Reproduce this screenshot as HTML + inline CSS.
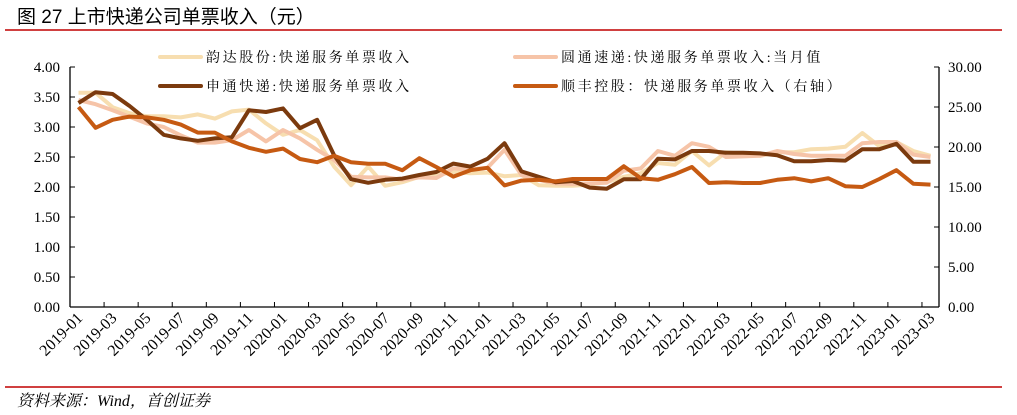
<!DOCTYPE html>
<html><head><meta charset="utf-8"><style>
body{margin:0;background:#fff;}
svg{display:block;font-family:"Liberation Serif","Noto Serif CJK SC",serif;}
</style></head><body>
<svg id="chart" width="1017" height="415" viewBox="0 0 1017 415" xmlns="http://www.w3.org/2000/svg">
<text x="17" y="23" font-size="19" font-family="Liberation Sans, Noto Sans CJK SC, sans-serif" fill="#000">图  27 上市快递公司单票收入（元）</text>
<line x1="5" y1="30" x2="1002" y2="30" stroke="#c00000" stroke-width="1.5"/>
<line x1="5" y1="387" x2="1002" y2="387" stroke="#c00000" stroke-width="1.5"/>
<text x="17" y="406" font-size="16" font-style="italic" fill="#000">资料来源：Wind，首创证券</text>
<g id="axes"></g>
<g id="series"></g>
<g id="legend"></g>
</svg>
<script>
const categories = [];
for (let y = 2019; y <= 2023; y++) for (let m = 1; m <= 12; m++) { if (y === 2023 && m > 3) break; categories.push(y + '-' + String(m).padStart(2, '0')); }
const leftTicks = ["0.00","0.50","1.00","1.50","2.00","2.50","3.00","3.50","4.00"];
const rightTicks = ["0.00","5.00","10.00","15.00","20.00","25.00","30.00"];
const yundaValues = [3.57,3.57,3.33,3.23,3.18,3.18,3.16,3.21,3.14,3.26,3.29,3.06,2.87,2.95,2.78,2.34,2.03,2.34,2.02,2.08,2.17,2.2,2.25,2.23,2.24,2.18,2.2,2.03,2.02,2.02,2.04,2.08,2.17,2.23,2.4,2.37,2.6,2.36,2.58,2.55,2.52,2.58,2.58,2.63,2.64,2.67,2.9,2.68,2.75,2.6,2.52];
const ytoValues = [3.45,3.38,3.28,3.17,3.06,3.0,2.86,2.74,2.74,2.78,2.95,2.76,2.95,2.81,2.62,2.45,2.17,2.16,2.16,2.12,2.16,2.15,2.31,2.29,2.32,2.62,2.2,2.12,2.06,2.05,2.06,2.07,2.27,2.31,2.6,2.52,2.73,2.67,2.5,2.51,2.52,2.6,2.55,2.52,2.52,2.52,2.73,2.75,2.75,2.54,2.5];
const stoValues = [3.4,3.58,3.55,3.35,3.12,2.87,2.81,2.77,2.81,2.83,3.28,3.25,3.31,2.98,3.12,2.53,2.13,2.07,2.12,2.14,2.2,2.25,2.39,2.34,2.47,2.73,2.26,2.17,2.08,2.1,1.99,1.97,2.13,2.13,2.47,2.46,2.6,2.6,2.57,2.57,2.56,2.53,2.43,2.43,2.45,2.44,2.63,2.63,2.72,2.42,2.42];
const sfValues = [25.0,22.4,23.4,23.8,23.7,23.4,22.8,21.8,21.8,20.7,19.9,19.4,19.8,18.5,18.1,18.9,18.1,17.9,17.9,17.1,18.6,17.5,16.3,17.1,17.4,15.2,15.8,15.9,15.7,16.0,16.0,16.0,17.6,16.1,15.9,16.6,17.5,15.5,15.6,15.5,15.5,15.9,16.1,15.7,16.1,15.1,15.0,16.0,17.1,15.4,15.3];

const NS = 'http://www.w3.org/2000/svg';
const X0 = 70, X1 = 939, YT = 67, YB = 307;
const step = (X1 - X0) / categories.length;
function xPos(i){ return X0 + step * (i + 0.5); }
function yLeft(v){ return YB - (v / 4) * (YB - YT); }
function yRight(v){ return YB - (v / 30) * (YB - YT); }
function mk(tag, attrs, parent){ const e = document.createElementNS(NS, tag); for (const k in attrs) e.setAttribute(k, attrs[k]); parent.appendChild(e); return e; }
const axes = document.getElementById('axes');
let e = mk('line', {x1:X0,y1:YT,x2:X0,y2:YB,stroke:'#000','stroke-width':1.3}, axes);
 
e = mk('line', {x1:X1,y1:YT,x2:X1,y2:YB,stroke:'#000','stroke-width':1.3}, axes);
 
e = mk('line', {x1:X0,y1:YB,x2:X1,y2:YB,stroke:'#000','stroke-width':1.3}, axes);
 
leftTicks.forEach(t => {
  const y = yLeft(parseFloat(t));
  let l = mk('line', {x1:X0,y1:y,x2:X0+5,y2:y,stroke:'#000'}, axes);
   
  let tx = mk('text', {x:X0-10,y:y+5,'font-size':15,'text-anchor':'end'}, axes); tx.textContent = t;
   
});
rightTicks.forEach(t => {
  const y = yRight(parseFloat(t));
  let l = mk('line', {x1:X1-5,y1:y,x2:X1,y2:y,stroke:'#000'}, axes);
   
  let tx = mk('text', {x:X1+9,y:y+5,'font-size':15}, axes); tx.textContent = t;
   
});
categories.forEach((c, i) => {
  if (i % 2 === 0 && i > 0) {
    const x = X0 + step * i;
    let l = mk('line', {x1:x,y1:YB,x2:x,y2:YB-5,stroke:'#000'}, axes);
     
  }
  if (i % 2 === 0) {
    const x = xPos(i) + 5, y = YB + 12;
    let tx = mk('text', {x:x,y:y,'font-size':16,'text-anchor':'end',transform:`rotate(-45 ${x} ${y})`}, axes);
    tx.textContent = c;
     
  }
});
const series = [
  {name:'yunda-line', vals:yundaValues, color:'#f7deb0', axis:yLeft, w:4, label:'韵达股份:快递服务单票收入', lx:160, ly:57},
  {name:'yto-line', vals:ytoValues, color:'#f6c4a8', axis:yLeft, w:4, label:'圆通速递:快递服务单票收入:当月值', lx:515, ly:57},
  {name:'sto-line', vals:stoValues, color:'#7b3a0e', axis:yLeft, w:4, label:'申通快递:快递服务单票收入', lx:160, ly:86},
  {name:'sf-line', vals:sfValues, color:'#c65a12', axis:yRight, w:4, label:'顺丰控股：快递服务单票收入（右轴）', lx:515, ly:86}
];
const sg = document.getElementById('series');
const lg = document.getElementById('legend');
series.forEach(s => {
  const pts = s.vals.map((v,i) => xPos(i).toFixed(1) + ',' + s.axis(v).toFixed(1)).join(' ');
  const p = mk('polyline', {points:pts, fill:'none', stroke:s.color, 'stroke-width':s.w, 'stroke-linejoin':'round'}, sg);
  
  
  const l = mk('line', {x1:s.lx,y1:s.ly,x2:s.lx+41,y2:s.ly,stroke:s.color,'stroke-width':4,'stroke-linecap':'round'}, lg);
  
  
  const t = mk('text', {x:s.lx+46,y:s.ly+5,'font-size':14,'letter-spacing':'2.6'}, lg);
  t.textContent = s.label;
  
  
});
</script>
</body></html>
